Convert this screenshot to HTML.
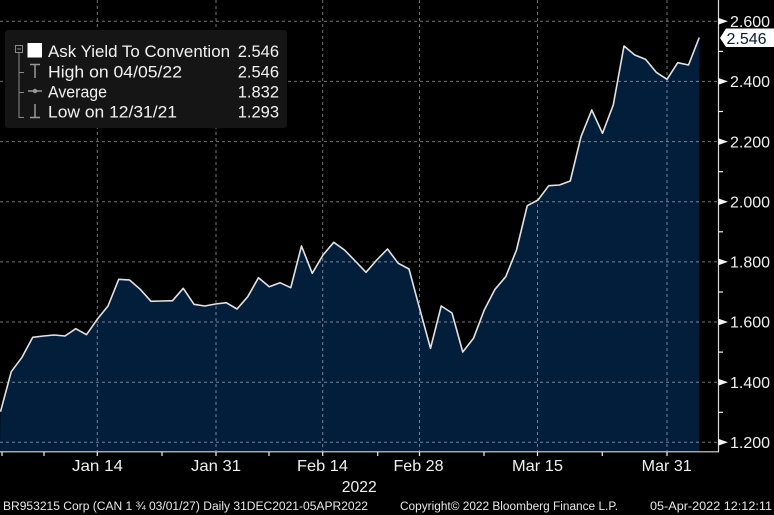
<!DOCTYPE html>
<html><head><meta charset="utf-8"><style>
html,body{margin:0;padding:0;background:#000;}
svg{display:block;}
text{font-family:"Liberation Sans",Arial,sans-serif;}
</style></head><body>
<svg width="774" height="515" viewBox="0 0 774 515" xmlns="http://www.w3.org/2000/svg">
<rect x="0" y="0" width="774" height="515" fill="#000"/>
<!-- area fill -->
<path fill="#031e3b" d="M0.5,411.7 L11.25,371.7 L22,357.3 L32.75,337.3 L43.5,336 L54.25,335 L65,336 L75.75,328.7 L86.5,334.7 L97.25,319.3 L108,306 L118.75,279.3 L129.5,280 L140.25,289.3 L151,301.3 L161.75,301 L172.5,300.7 L183.25,288.3 L194,304.3 L204.75,306 L215.5,304 L226.25,302.7 L237,309 L247.75,296.7 L258.5,277.7 L269.25,286.7 L280,282.7 L290.75,287.7 L301.5,246 L312.25,273.3 L323,255 L333.75,242.3 L344.5,250 L355.25,261 L366,272.3 L376.75,260 L387.5,249 L398.25,263.3 L409,269 L419.75,309 L430.5,348.3 L441.25,306 L452,313 L462.75,352 L473.5,338.3 L484.25,310 L495,289.3 L505.75,276.7 L516.5,250 L527.25,205.7 L538,200 L548.75,185.7 L559.5,185 L570.25,181 L581,136.7 L591.75,110 L602.5,133.3 L613.25,105 L624,46 L634.75,55 L645.5,59.3 L656.25,72.3 L667,79.3 L677.75,62.7 L688.5,65 L699.25,37.5 L699.25,451.5 L0,451.5 Z"/>
<!-- grid -->
<g stroke="rgba(255,255,255,0.45)" stroke-width="1" stroke-dasharray="3,3" fill="none">
<line x1="0" y1="21.3" x2="718" y2="21.3"/>
<line x1="0" y1="81.4" x2="718" y2="81.4"/>
<line x1="0" y1="141.6" x2="718" y2="141.6"/>
<line x1="0" y1="201.7" x2="718" y2="201.7"/>
<line x1="0" y1="261.9" x2="718" y2="261.9"/>
<line x1="0" y1="322" x2="718" y2="322"/>
<line x1="0" y1="382.2" x2="718" y2="382.2"/>
<line x1="0" y1="442.3" x2="718" y2="442.3"/>
<line x1="97.3" y1="0" x2="97.3" y2="451"/>
<line x1="216" y1="0" x2="216" y2="451"/>
<line x1="322.7" y1="0" x2="322.7" y2="451"/>
<line x1="419.5" y1="0" x2="419.5" y2="451"/>
<line x1="537.5" y1="0" x2="537.5" y2="451"/>
<line x1="667" y1="0" x2="667" y2="451"/>
</g>
<!-- series line -->
<polyline fill="none" stroke="#e2e2e2" stroke-width="1.6" stroke-linejoin="round" points="0.5,411.7 11.25,371.7 22,357.3 32.75,337.3 43.5,336 54.25,335 65,336 75.75,328.7 86.5,334.7 97.25,319.3 108,306 118.75,279.3 129.5,280 140.25,289.3 151,301.3 161.75,301 172.5,300.7 183.25,288.3 194,304.3 204.75,306 215.5,304 226.25,302.7 237,309 247.75,296.7 258.5,277.7 269.25,286.7 280,282.7 290.75,287.7 301.5,246 312.25,273.3 323,255 333.75,242.3 344.5,250 355.25,261 366,272.3 376.75,260 387.5,249 398.25,263.3 409,269 419.75,309 430.5,348.3 441.25,306 452,313 462.75,352 473.5,338.3 484.25,310 495,289.3 505.75,276.7 516.5,250 527.25,205.7 538,200 548.75,185.7 559.5,185 570.25,181 581,136.7 591.75,110 602.5,133.3 613.25,105 624,46 634.75,55 645.5,59.3 656.25,72.3 667,79.3 677.75,62.7 688.5,65 699.25,37.5"/>
<!-- axes -->
<line x1="718.5" y1="0" x2="718.5" y2="452" stroke="#d8d8d8" stroke-width="1.2"/>
<line x1="0" y1="451.8" x2="719" y2="451.8" stroke="#d8d8d8" stroke-width="1.2"/>
<!-- y ticks -->
<g fill="#f2f2f2">
<polygon points="718,17.8 728,21.3 718,24.8"/>
<polygon points="718,77.9 728,81.4 718,84.9"/>
<polygon points="718,138.1 728,141.6 718,145.1"/>
<polygon points="718,198.2 728,201.7 718,205.2"/>
<polygon points="718,258.4 728,261.9 718,265.4"/>
<polygon points="718,318.5 728,322 718,325.5"/>
<polygon points="718,378.7 728,382.2 718,385.7"/>
<polygon points="718,438.8 728,442.3 718,445.8"/>
</g>
<g stroke="#f2f2f2" stroke-width="1.2">
<line x1="718" y1="51.4" x2="723" y2="51.4"/>
<line x1="718" y1="111.5" x2="723" y2="111.5"/>
<line x1="718" y1="171.7" x2="723" y2="171.7"/>
<line x1="718" y1="231.8" x2="723" y2="231.8"/>
<line x1="718" y1="292" x2="723" y2="292"/>
<line x1="718" y1="352.1" x2="723" y2="352.1"/>
<line x1="718" y1="412.3" x2="723" y2="412.3"/>
</g>
<g fill="#f0f0f0" font-size="16">
<text x="730" y="27">2.600</text>
<text x="730" y="87.1">2.400</text>
<text x="730" y="147.3">2.200</text>
<text x="730" y="207.4">2.000</text>
<text x="730" y="267.6">1.800</text>
<text x="730" y="327.7">1.600</text>
<text x="730" y="387.9">1.400</text>
<text x="730" y="448">1.200</text>
</g>
<!-- last value box -->
<path d="M720,38 L726,28.5 L774,28.5 L774,47 L726,47 Z" fill="#ffffff"/>
<text x="726.5" y="44" font-size="16" fill="#0b1a30">2.546</text>
<!-- x ticks -->
<g stroke="#f2f2f2" stroke-width="1.2">
<line x1="2" y1="452" x2="2" y2="456"/>
<line x1="44" y1="452" x2="44" y2="456"/>
<line x1="97.3" y1="452" x2="97.3" y2="456"/>
<line x1="162" y1="452" x2="162" y2="456"/>
<line x1="216" y1="452" x2="216" y2="456"/>
<line x1="269" y1="452" x2="269" y2="456"/>
<line x1="322.7" y1="452" x2="322.7" y2="456"/>
<line x1="377.7" y1="452" x2="377.7" y2="456"/>
<line x1="419.5" y1="452" x2="419.5" y2="456"/>
<line x1="484" y1="452" x2="484" y2="456"/>
<line x1="537.5" y1="452" x2="537.5" y2="456"/>
<line x1="602.3" y1="452" x2="602.3" y2="456"/>
<line x1="667" y1="452" x2="667" y2="456"/>
</g>
<g fill="#f0f0f0" font-size="16" lengthAdjust="spacingAndGlyphs">
<text x="72" y="471" textLength="51" lengthAdjust="spacingAndGlyphs">Jan 14</text>
<text x="191" y="471" textLength="50" lengthAdjust="spacingAndGlyphs">Jan 31</text>
<text x="297" y="471" textLength="51" lengthAdjust="spacingAndGlyphs">Feb 14</text>
<text x="393.5" y="471" textLength="50" lengthAdjust="spacingAndGlyphs">Feb 28</text>
<text x="512" y="471" textLength="51" lengthAdjust="spacingAndGlyphs">Mar 15</text>
<text x="641.7" y="471" textLength="50" lengthAdjust="spacingAndGlyphs">Mar 31</text>
<text x="341.7" y="492" textLength="35" lengthAdjust="spacingAndGlyphs">2022</text>
</g>
<!-- footer -->
<g fill="#e8e8e8" font-size="11.5">
<text x="3" y="510" textLength="365" lengthAdjust="spacingAndGlyphs">BR953215 Corp (CAN 1 ¾ 03/01/27)  Daily 31DEC2021-05APR2022</text>
<text x="400" y="510" textLength="218" lengthAdjust="spacingAndGlyphs">Copyright© 2022 Bloomberg Finance L.P.</text>
<text x="650" y="510" textLength="122" lengthAdjust="spacingAndGlyphs">05-Apr-2022 12:12:11</text>
</g>
<!-- legend -->
<rect x="5" y="30" width="282" height="98" rx="3" ry="3" fill="#151515"/>
<g stroke="#8a8a8a" stroke-width="1" fill="none">
<rect x="15.5" y="45.5" width="7" height="7"/>
<line x1="17" y1="49" x2="21" y2="49"/>
<line x1="19" y1="53" x2="19" y2="118"/>
<line x1="19" y1="72.5" x2="24" y2="72.5"/>
<line x1="19" y1="92.5" x2="24" y2="92.5"/>
<line x1="19" y1="117.5" x2="24" y2="117.5"/>
</g>
<rect x="27.5" y="43" width="14.5" height="14.5" fill="#ffffff"/>
<g stroke="#9a9a9a" stroke-width="1.5" fill="none">
<line x1="30" y1="64.5" x2="40" y2="64.5"/>
<line x1="35" y1="64.5" x2="35" y2="78"/>
<line x1="28" y1="91" x2="42" y2="91"/>
<line x1="35" y1="104" x2="35" y2="117"/>
<line x1="30" y1="117.5" x2="40" y2="117.5"/>
</g>
<circle cx="35" cy="91" r="2.2" fill="#9a9a9a"/>
<g fill="#f2f2f2" font-size="17">
<text x="48" y="57" textLength="182" lengthAdjust="spacingAndGlyphs">Ask Yield To Convention</text>
<text x="48" y="77.5" textLength="134" lengthAdjust="spacingAndGlyphs">High on 04/05/22</text>
<text x="48" y="97.5" textLength="59" lengthAdjust="spacingAndGlyphs">Average</text>
<text x="48" y="117.5" textLength="129" lengthAdjust="spacingAndGlyphs">Low on 12/31/21</text>
</g>
<g fill="#f2f2f2" font-size="16.5" text-anchor="end">
<text x="279" y="57">2.546</text>
<text x="279" y="77.5">2.546</text>
<text x="279" y="97.5">1.832</text>
<text x="279" y="117.5">1.293</text>
</g>
</svg>
</body></html>
